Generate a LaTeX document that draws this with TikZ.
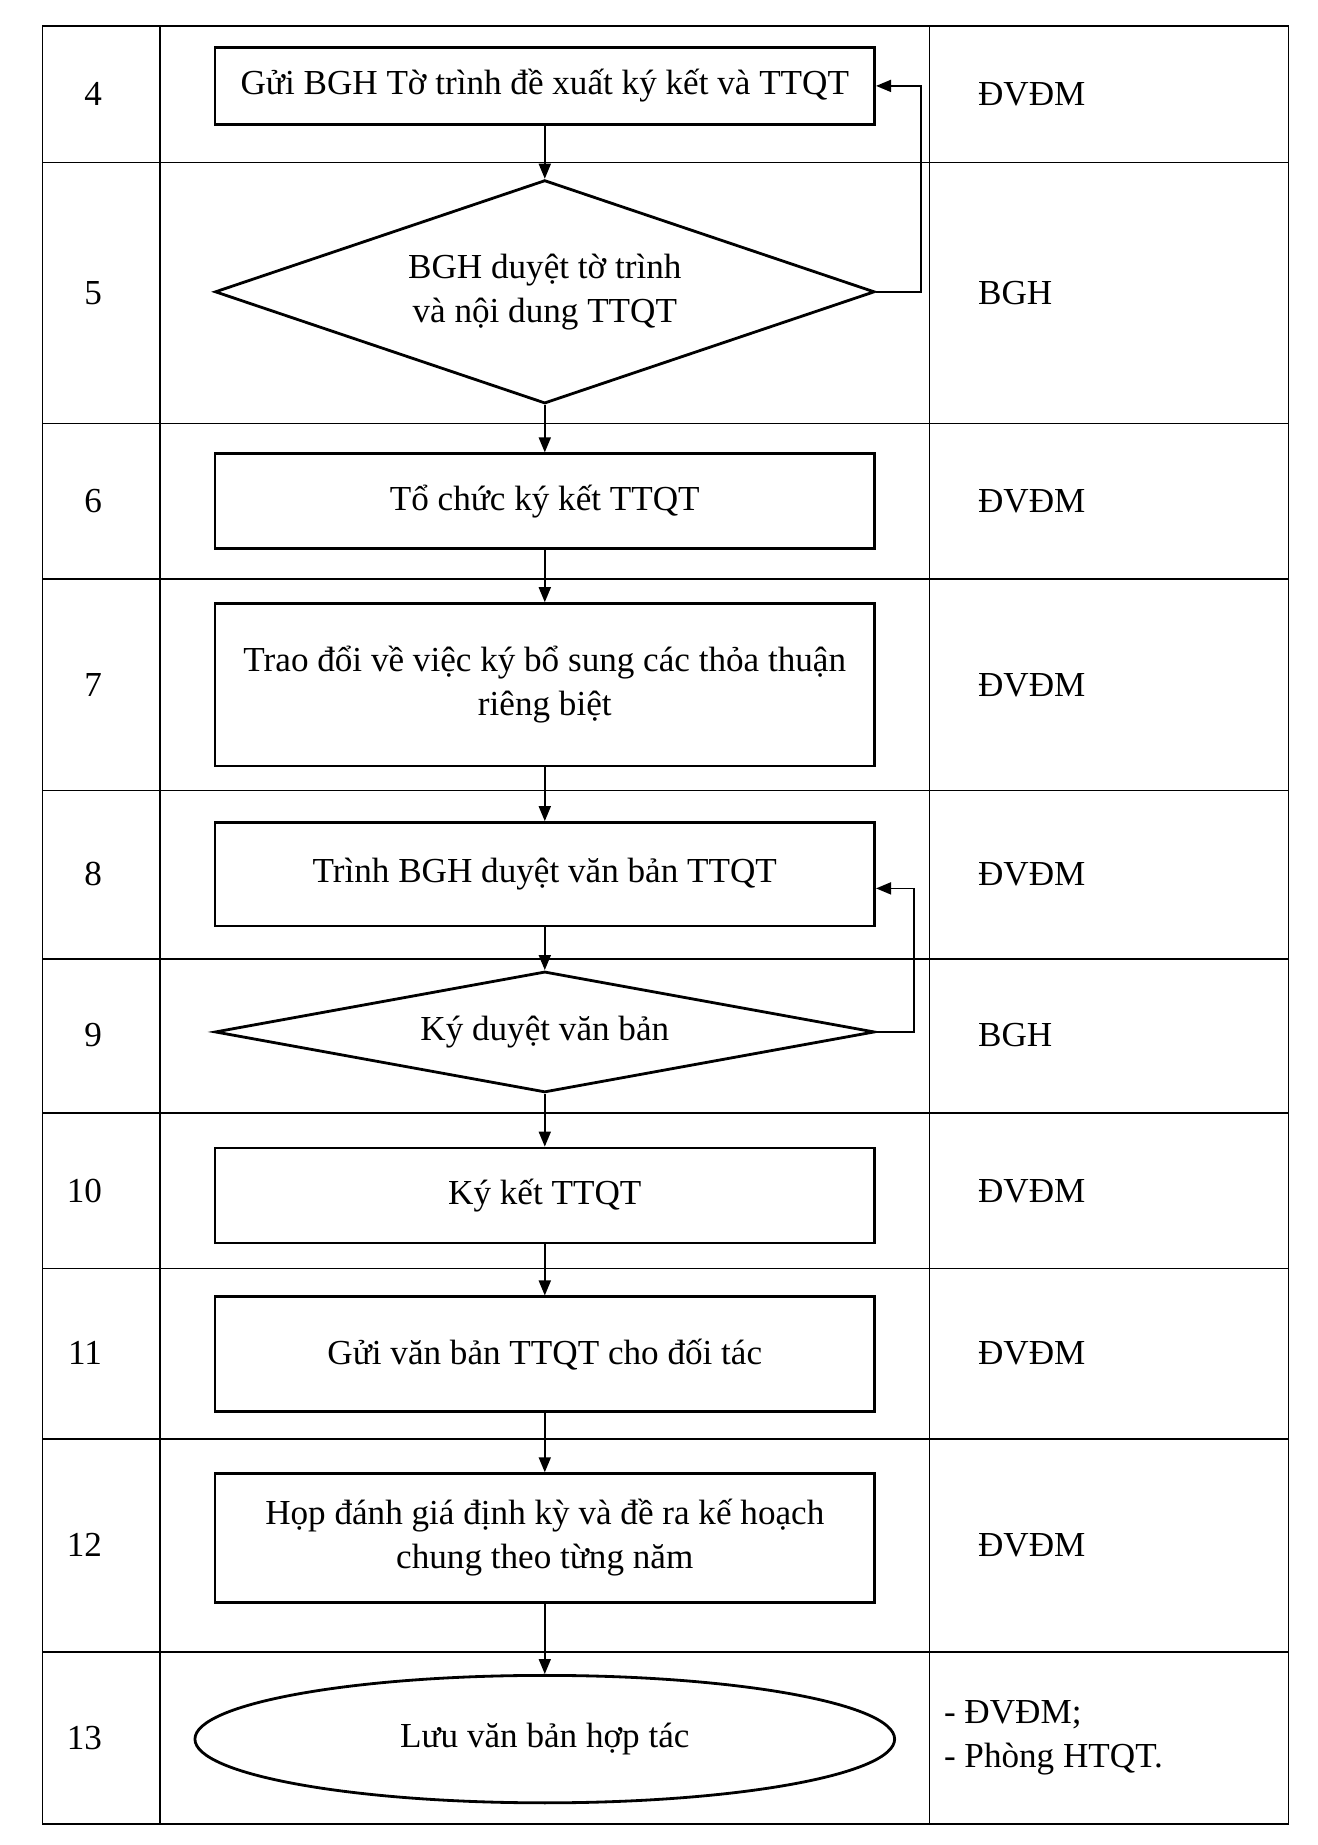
\documentclass[tikz,border=0pt]{standalone}
\usepackage{fontspec}
\setmainfont{Liberation Serif}
\usetikzlibrary{shapes.geometric, arrows.meta, calc}
\tikzstyle{grid} = [line width=0.8pt]
\tikzstyle{block} = [rectangle, minimum width=13.2cm, align=center, inner sep=2mm, draw=black, line width=1.6pt]
\tikzstyle{decision} = [diamond, minimum width=13.2cm, align=center, inner sep=0pt, draw=black, line width=1.6pt]
\tikzstyle{storage} = [ellipse, minimum width=14cm, minimum height=2.55cm, inner sep=0pt, draw=black, line width=1.6pt]
\tikzstyle{arrow} = [line width=1pt, -{Triangle[length=3mm, width=2.4mm]}]
\tikzstyle{stepnum} = [anchor=east]
\tikzstyle{unit} = [anchor=west, align=left]

\begin{document}
\begin{tikzpicture}[x=0.02354cm, y=-0.02354cm, every node/.style={font=\fontsize{20}{25}\selectfont}]
      \useasboundingbox (0,0) rectangle (1120,1568);
      % Khung bảng
      \draw[grid] (36,22) rectangle (1095,1550);
      \draw[grid] (136,22) -- (136,1550);
      \draw[grid] (790,22) -- (790,1550);
      \foreach \y in {138,360,492,672,815,946,1078,1223,1404}
        \draw[grid] (36,\y) -- (1095,\y);

      % Cột số thứ tự
      \foreach \n/\y in {4/80,5/249,6/426,7/582,8/743,9/880,10/1012,11/1150,12/1313,13/1477}
        \node[stepnum] (n\n) at (92,\y) {\n};

      % Cột đơn vị thực hiện
      \foreach \n/\y/\t in {4/80/ĐVĐM,5/249/BGH,6/426/ĐVĐM,7/582/ĐVĐM,8/743/ĐVĐM,9/880/BGH,10/1012/ĐVĐM,11/1150/ĐVĐM,12/1313/ĐVĐM}
        \node[unit] (u\n) at (826,\y) {\t};
      \node[unit] (u13) at (797,1477) {- ĐVĐM;\\- Phòng HTQT.};

      % Lưu đồ
      \node[block, minimum height=1.55cm] (b4) at (463,73) {Gửi BGH Tờ trình đề xuất ký kết và TTQT};
      \node[decision, aspect=2.95, minimum height=4.47cm] (d5) at (463,248) {BGH duyệt tờ trình\\và nội dung TTQT};
      \node[block, minimum height=1.9cm] (b6) at (463,426) {Tổ chức ký kết TTQT};
      \node[block, minimum height=3.25cm] (b7) at (463,582) {Trao đổi về việc ký bổ sung các thỏa thuận\\riêng biệt};
      \node[block, minimum height=2.07cm] (b8) at (463,743) {Trình BGH duyệt văn bản TTQT};
      \node[decision, aspect=5.4, minimum height=2.42cm] (d9) at (463,877) {Ký duyệt văn bản};
      \node[block, minimum height=1.9cm] (b10) at (463,1016) {Ký kết TTQT};
      \node[block, minimum height=2.3cm] (b11) at (463,1151) {Gửi văn bản TTQT cho đối tác};
      \node[block, minimum height=2.57cm] (b12) at (463,1307) {Họp đánh giá định kỳ và đề ra kế hoạch\\chung theo từng năm};
      \node[storage] (e13) at (463,1478) {Lưu văn bản hợp tác};

      % Mũi tên
      \draw[arrow] (b4) -- (d5);
      \draw[arrow] (d5) -- (b6);
      \draw[arrow] (b6) -- (b7);
      \draw[arrow] (b7) -- (b8);
      \draw[arrow] (b8) -- (d9);
      \draw[arrow] (d9) -- (b10);
      \draw[arrow] (b10) -- (b11);
      \draw[arrow] (b11) -- (b12);
      \draw[arrow] (b12) -- (e13);

      \draw[arrow] (d5.east) -- ++(38,0) |- (b4.east);
      \draw[arrow] (d9.east) -- ++(32,0) |- ($(b8.east)+(0,12)$);
    \end{tikzpicture}
\end{document}
